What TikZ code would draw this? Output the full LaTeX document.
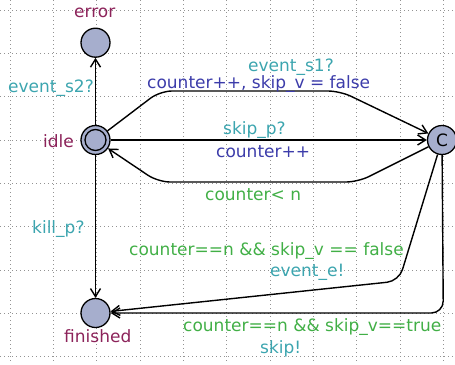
\documentclass[tikz,border=0pt]{standalone}
\usepackage{fontspec}
\setmainfont{DejaVu Sans}
\usetikzlibrary{arrows.meta}
\definecolor{locfill}{RGB}{166,174,205}
\definecolor{namecol}{RGB}{140,35,90}
\definecolor{synccol}{RGB}{60,165,175}
\definecolor{updcol}{RGB}{60,60,170}
\definecolor{guardcol}{RGB}{65,175,70}
\begin{document}
\begin{tikzpicture}[x=1pt,y=-1pt,
  loc/.style={circle,draw=black,line width=1.3pt,fill=locfill,minimum size=29pt,inner sep=0pt,font=\fontsize{17}{20}\selectfont},
  edge/.style={draw=black,line width=1.4pt,-{Straight Barb[length=8pt,width=10pt]},rounded corners=12pt},
  lbl/.style={anchor=base west,inner sep=0pt,font=\fontsize{17}{20}\selectfont},
  locname/.style={lbl,text=namecol},
  synclbl/.style={lbl,text=synccol},
  updlbl/.style={lbl,text=updcol},
  guardlbl/.style={lbl,text=guardcol},
  gridline/.style={gray!85,line width=1pt,dash pattern=on 1pt off 3pt}]
\useasboundingbox (0,0) rectangle (455,364);
% grid
\foreach \i in {0,...,10} {\draw[gridline] ({10+43.333*\i},0) -- ({10+43.333*\i},364);}
\foreach \i in {0,...,8} {\draw[gridline] (0,{10+43.333*\i}) -- (455,{10+43.333*\i});}
% locations
\node[loc] (error) at (95.5,42.7) {};
\node[loc] (idle) at (95.5,140) {};
\draw[line width=1.3pt] (idle.center) circle[radius=10.5pt];
\node[loc] (finished) at (95.5,313) {};
\node[loc] (C) at (442,140) {C};
% names
\node[locname] (nerror) at (74,17.5) {error};
\node[locname] (nidle) at (43,147.5) {idle};
\node[locname] (nfinished) at (64,342.5) {finished};
% waypoints
\coordinate (u1) at (160,91);
\coordinate (u2) at (340,91);
\coordinate (l1) at (358,182);
\coordinate (l2) at (158,182);
\coordinate (d1) at (399,281);
\coordinate (r1) at (443.3,313);
% edges
\draw[edge] (idle) -- (error);
\draw[edge] (idle) -- (finished);
\draw[edge] (idle) -- (u1) -- (u2) -- (C);
\draw[edge] (idle) -- (C);
\draw[edge] (C) -- (l1) -- (l2) -- (idle);
\draw[edge] (C) -- (d1) -- (finished);
\draw[edge] (C) -- (r1) -- (finished);
% labels
\node[synclbl] (s2) at (8,92.5) {event\_s2?};
\node[synclbl] (kill) at (32,233) {kill\_p?};
\node[synclbl] (s1) at (248,71) {event\_s1?};
\node[updlbl] (u1lbl) at (147,88.3) {counter++, skip\_v = false};
\node[synclbl] (skp) at (223,134) {skip\_p?};
\node[updlbl] (cinc) at (216,157.7) {counter++};
\node[guardlbl] (clt) at (205,200.5) {counter< n};
\node[guardlbl] (gfalse) at (129,255) {counter==n \&\& skip\_v == false};
\node[synclbl] (ee) at (270,276.7) {event\_e!};
\node[guardlbl] (gtrue) at (183,331.7) {counter==n \&\& skip\_v==true};
\node[synclbl] (sk) at (260,353) {skip!};
\end{tikzpicture}
\end{document}
